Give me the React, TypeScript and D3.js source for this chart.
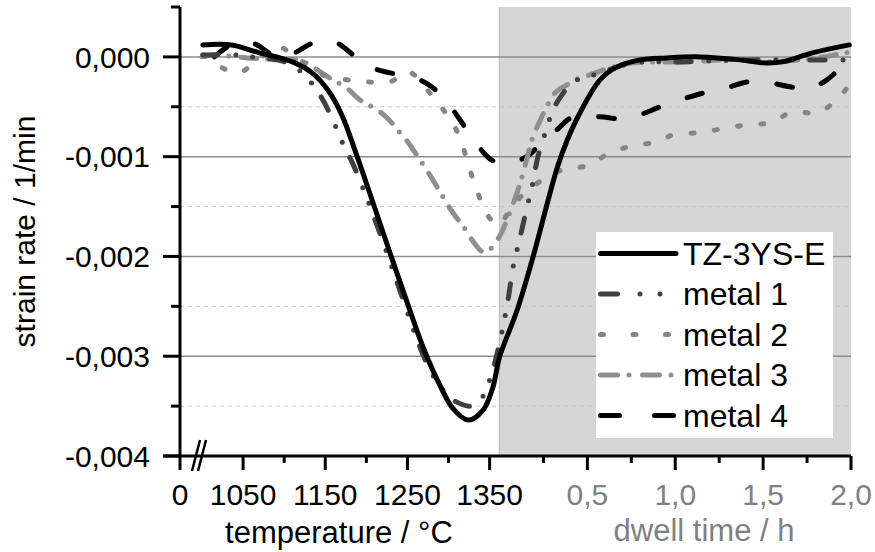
import React from 'react';
import * as d3 from 'd3';

// ---------- data ----------
const seriesNames = ['TZ-3YS-E', 'metal 1', 'metal 2', 'metal 3', 'metal 4'];

const rateMajorTicks = [0, -0.001, -0.002, -0.003, -0.004];
const rateMinorTicks = [0.0005, -0.0005, -0.0015, -0.0025, -0.0035];
const tempMajorTicks = [1050, 1150, 1250, 1350];
const tempMinorTicks = [1100, 1200, 1300];
const dwellMajorTicks = [0.5, 1.0, 1.5, 2.0];
const dwellMinorTicks = [0.25, 0.75, 1.25, 1.75];

// heating: [temperature °C, strain rate x10^-3 1/min]
const tzHeat: [number, number][] = [
  [1001, 0.12], [1036, 0.12], [1070, 0.04], [1095, -0.01], [1113, -0.06], [1134, -0.16],
  [1153, -0.33], [1170, -0.58], [1188, -0.98], [1208, -1.46], [1229, -1.97], [1250, -2.47],
  [1270, -2.93], [1290, -3.3], [1305, -3.52], [1324, -3.64], [1342, -3.54], [1354, -3.31],
];
// dwell: [time h, strain rate x10^-3 1/min]
const tzDwell: [number, number][] = [
  [0, -3.01], [0.1, -2.54], [0.19, -2.01], [0.276, -1.44], [0.33, -1.1], [0.384, -0.84],
  [0.458, -0.56], [0.572, -0.23], [0.669, -0.1], [0.8, -0.03], [0.95, -0.01], [1.14, 0],
  [1.37, -0.03], [1.5, -0.06], [1.61, -0.05], [1.78, 0.04], [1.99, 0.12],
];

const m1Heat: [number, number][] = [
  [1001, 0.02], [1040, 0.02], [1068, -0.01], [1101, -0.05], [1122, -0.16], [1135, -0.28],
  [1147, -0.43], [1159, -0.63], [1172, -0.88], [1184, -1.08], [1198, -1.36], [1217, -1.78],
  [1237, -2.25], [1250, -2.56], [1262, -2.84], [1274, -3.08], [1286, -3.26],
  [1298, -3.38], [1310, -3.46], [1330, -3.5], [1342, -3.4], [1353, -3.16],
];
const m1Dwell: [number, number][] = [
  [0, -2.87], [0.048, -2.44], [0.077, -2.11], [0.117, -1.81], [0.156, -1.51], [0.185, -1.3],
  [0.219, -1.0], [0.27, -0.71], [0.304, -0.53], [0.356, -0.38], [0.418, -0.25], [0.504, -0.2],
  [0.572, -0.16], [0.76, -0.06], [1.044, -0.05], [1.425, -0.03], [1.71, -0.03], [1.994, -0.03],
];

const m2Heat: [number, number][] = [
  [1001, 0.02], [1018, -0.08], [1044, -0.16], [1068, -0.03], [1092, 0.1], [1119, -0.03],
  [1147, -0.18], [1176, -0.23], [1201, -0.25], [1229, -0.25], [1251, -0.15], [1281, -0.4],
  [1302, -0.63], [1314, -0.81], [1324, -1.08], [1335, -1.35], [1347, -1.58], [1358, -1.68],
];
const m2Dwell: [number, number][] = [
  [0, -1.68], [0.07, -1.51], [0.145, -1.36], [0.23, -1.25], [0.36, -1.13], [0.5, -1.09],
  [0.63, -0.96], [0.76, -0.89], [0.9, -0.85], [0.99, -0.78], [1.13, -0.76], [1.27, -0.72],
  [1.41, -0.68], [1.54, -0.66], [1.67, -0.55], [1.81, -0.56], [1.93, -0.41], [1.99, -0.28],
];

const m3Heat: [number, number][] = [
  [1000, 0], [1013, 0.02], [1055, -0.01], [1103, -0.03], [1119, -0.03], [1140, -0.13],
  [1159, -0.23], [1176, -0.31], [1192, -0.43], [1213, -0.53], [1225, -0.61], [1241, -0.76],
  [1251, -0.86], [1265, -1.03], [1277, -1.18], [1293, -1.4], [1305, -1.56], [1318, -1.7],
  [1330, -1.85], [1341, -1.95], [1350, -1.93],
];
const m3Dwell: [number, number][] = [
  [0, -1.8], [0.043, -1.63], [0.1, -1.36], [0.128, -1.2], [0.162, -0.98], [0.19, -0.8],
  [0.22, -0.68], [0.26, -0.53], [0.316, -0.36], [0.384, -0.28], [0.458, -0.21], [0.515, -0.18],
  [0.63, -0.11], [0.76, -0.06], [1.044, -0.05], [1.33, -0.03], [1.52, -0.05], [1.81, -0.01],
  [1.99, 0.05],
];

const m4Heat: [number, number][] = [
  [1015, 0.0], [1038, 0.14], [1046, 0.15], [1064, 0.13], [1086, 0.02], [1101, -0.01],
  [1113, 0.04], [1135, 0.14], [1150, 0.16], [1164, 0.14], [1184, 0.02], [1204, -0.1],
  [1229, -0.16], [1259, -0.21], [1281, -0.31], [1299, -0.46], [1318, -0.68], [1335, -0.88],
  [1350, -1.02],
];
const m4Dwell: [number, number][] = [
  [0, -1.06], [0.105, -1.04], [0.17, -0.98], [0.23, -0.88], [0.327, -0.73], [0.41, -0.61],
  [0.57, -0.6], [0.686, -0.62], [0.8, -0.58], [0.913, -0.5], [1.084, -0.4], [1.186, -0.35],
  [1.31, -0.3], [1.414, -0.25], [1.54, -0.26], [1.653, -0.3], [1.755, -0.32], [1.863, -0.23],
  [1.994, -0.01],
];

const heatData = [tzHeat, m1Heat, m2Heat, m3Heat, m4Heat];
const dwellData = [tzDwell, m1Dwell, m2Dwell, m3Dwell, m4Dwell];

// ---------- styles ----------
const colors = ['#000000', '#404040', '#858585', '#8f8f8f', '#000000'];
const dashes = ['none', '15 18 0 17 0 17', '3 20.5', '16 11 0 12', '16 30'];
const legendDashes = ['none', '17 22.5 0 20 0 20', '3 29.5', '17 11.5 0 13.5', '19 35'];
const drawOrder = [4, 3, 2, 1, 0];

const FONT = "'Liberation Sans', Arial, Helvetica, sans-serif";
const FS = 30;

const fmtRate = (v: number) => (v === 0 ? '0,000' : v.toFixed(3).replace('.', ','));
const fmtDwell = (v: number) => v.toFixed(1).replace('.', ',');

export default function App() {
  const X0 = 180, X1 = 851, Y0 = 7, Y1 = 456;
  const xT = d3.scaleLinear().domain([1000, 1362]).range([202, 499.5]);
  const xH = d3.scaleLinear().domain([0, 2]).range([499.5, X1]);
  const y = d3.scaleLinear().domain([-0.004, 0.0005]).range([Y1, Y0]);
  const k = 1e-3;
  const line = d3.line<[number, number]>().curve(d3.curveCatmullRom.alpha(0.5));

  const paths = seriesNames.map((_, i) => {
    const pts: [number, number][] = [
      ...heatData[i].map(([T, r]) => [xT(T), y(r * k)] as [number, number]),
      ...dwellData[i].map(([t, r]) => [xH(t), y(r * k)] as [number, number]),
    ];
    return line(pts) || '';
  });

  const legX = 596, legY = 232, legW = 237, legH = 206;
  const rowY = (i: number) => 253.5 + i * 40.5;

  return (
    <svg width={875} height={552} style={{ position: 'absolute', left: 0, top: 0, background: '#fff' }}
      fontFamily={FONT}>
      {/* dwell region */}
      <rect x={xH(0)} y={Y0} width={X1 - xH(0)} height={Y1 - Y0} fill="#d6d6d6" />
      <line x1={xH(0)} x2={xH(0)} y1={Y0} y2={Y1} stroke="#c4c4c4" strokeWidth={1.5} />

      {/* grid */}
      {rateMinorTicks.filter(v => v < 0).map(v => (
        <line key={'gm' + v} x1={X0} x2={X1} y1={y(v)} y2={y(v)} stroke="#c8c8c8" strokeWidth={1} strokeDasharray="4 4" />
      ))}
      {rateMajorTicks.filter(v => v > -0.004).map(v => (
        <line key={'gM' + v} x1={X0} x2={X1} y1={y(v)} y2={y(v)} stroke="#8c8c8c" strokeWidth={1.5} />
      ))}

      {/* curves */}
      {drawOrder.map(i => (
        <path key={'s' + i} d={paths[i]} fill="none" stroke={colors[i]} strokeWidth={5}
          strokeDasharray={dashes[i]} strokeLinecap="round" strokeLinejoin="round" />
      ))}

      {/* legend */}
      <rect x={legX} y={legY} width={legW} height={legH} fill="#fff" />
      {seriesNames.map((n, i) => (
        <g key={'l' + i}>
          <line x1={600.5} x2={676} y1={rowY(i)} y2={rowY(i)} stroke={colors[i]} strokeWidth={5}
            strokeDasharray={legendDashes[i]} strokeLinecap="round" />
          <text x={683} y={rowY(i) + 11} fontSize={32} fill="#000">{n}</text>
        </g>
      ))}

      {/* y axis */}
      <line x1={X0} x2={X0} y1={Y0} y2={470} stroke="#000" strokeWidth={3} />
      {rateMajorTicks.map(v => (
        <g key={'yt' + v}>
          <line x1={163} x2={X0} y1={y(v)} y2={y(v)} stroke="#000" strokeWidth={3} />
          <text x={150} y={y(v)} dy="0.36em" textAnchor="end" fontSize={FS} fill="#000">{fmtRate(v)}</text>
        </g>
      ))}
      {rateMinorTicks.map(v => (
        <line key={'ym' + v} x1={171} x2={X0} y1={y(v)} y2={y(v)} stroke="#000" strokeWidth={3} />
      ))}
      <text transform={`translate(35,${(Y0 + Y1) / 2}) rotate(-90)`} textAnchor="middle" fontSize={FS} fill="#000">
        strain rate / 1/min
      </text>

      {/* x axis */}
      <line x1={163} x2={X1} y1={Y1} y2={Y1} stroke="#000" strokeWidth={3} />
      <line x1={192} x2={200} y1={471} y2={440} stroke="#000" strokeWidth={2.5} />
      <line x1={198} x2={206} y1={471} y2={440} stroke="#000" strokeWidth={2.5} />
      <text x={X0} y={Y1 + 38} dy="0.36em" textAnchor="middle" fontSize={FS} fill="#000">0</text>
      {tempMajorTicks.map(v => (
        <g key={'xt' + v}>
          <line x1={xT(v)} x2={xT(v)} y1={Y1} y2={470} stroke="#000" strokeWidth={3} />
          <text x={xT(v)} y={Y1 + 38} dy="0.36em" textAnchor="middle" fontSize={FS} fill="#000">{v}</text>
        </g>
      ))}
      {tempMinorTicks.map(v => (
        <line key={'xm' + v} x1={xT(v)} x2={xT(v)} y1={Y1} y2={463} stroke="#000" strokeWidth={3} />
      ))}
      {dwellMajorTicks.map(v => (
        <g key={'dt' + v}>
          <line x1={xH(v)} x2={xH(v)} y1={Y1} y2={470} stroke="#000" strokeWidth={3} />
          <text x={xH(v)} y={Y1 + 38} dy="0.36em" textAnchor="middle" fontSize={FS} fill="#808080">{fmtDwell(v)}</text>
        </g>
      ))}
      {dwellMinorTicks.map(v => (
        <line key={'dm' + v} x1={xH(v)} x2={xH(v)} y1={Y1} y2={463} stroke="#000" strokeWidth={3} />
      ))}
      <text x={339} y={543} textAnchor="middle" fontSize={31} fill="#000">temperature / °C</text>
      <text x={704} y={541} textAnchor="middle" fontSize={31} fill="#808080">dwell time / h</text>
    </svg>
  );
}
